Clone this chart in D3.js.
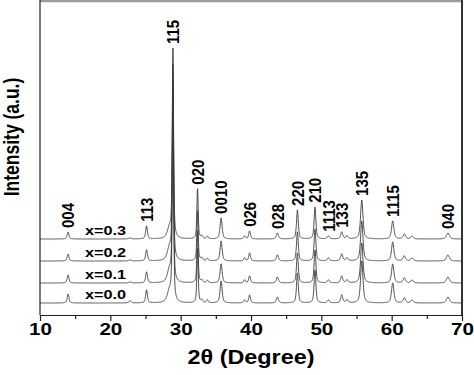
<!DOCTYPE html>
<html>
<head>
<meta charset="utf-8">
<script src="https://cdn.jsdelivr.net/npm/d3@7"></script>
<style>
  body { margin: 0; background: #fff; }
  svg { display: block; font-family: "Liberation Sans", Arial, sans-serif; }
</style>
</head>
<body>
<div id="chart"></div>
<script>
// Peak list (2θ, degrees)
const peakPos   = [14.0, 22.8, 25.15, 28.4, 28.9, 32.4, 33.0, 33.8, 35.75, 39.1, 39.8, 43.75, 46.6, 49.1, 51.0, 52.9, 53.65, 55.75, 60.15, 61.8, 62.9, 68.0];
const peakFwhm  = [0.3, 0.4, 0.3, 0.7, 0.22, 0.22, 0.3, 0.3, 0.35, 0.3, 0.3, 0.35, 0.3, 0.3, 0.35, 0.35, 0.35, 0.4, 0.4, 0.4, 0.4, 0.5];

// Peak intensities (a.u.) for each composition
const seriesNames = ["x=0.0", "x=0.1", "x=0.2", "x=0.3"];
const seriesOffset = [12, 32, 54, 76];
const int00 = [9, 2, 13, 11, 203, 54, 3, 3, 22, 3, 8, 6, 30, 33, 3, 8, 3, 42, 20, 5, 3, 6];
const int01 = [8, 1, 11, 12, 198, 52, 3, 2.5, 19, 3, 7, 6, 30, 33, 3, 7, 3, 40, 19, 5, 3, 6];
const int02 = [7, 1, 11, 12, 193, 50, 3, 2.5, 20, 3, 8, 6, 29, 32, 3, 7, 3, 40, 19, 5, 3, 6];
const int03 = [7, 1, 13, 10, 188, 50, 3, 2.5, 21, 3, 8, 6, 29, 32, 3, 7, 3, 39, 18, 5, 3, 6];
const seriesInt = [int00, int01, int02, int03];

// Miller index labels
const hklText = ["004", "113", "115", "020", "0010", "026", "028", "220", "210", "1113", "133", "135", "1115", "040"];
const hklPos  = [14.0, 25.15, 28.9, 32.4, 35.75, 39.8, 43.75, 46.6, 49.1, 51.0, 52.9, 55.75, 60.15, 68.0];

const xTicks = [10, 20, 30, 40, 50, 60, 70];
const xMinor = [15, 25, 35, 45, 55, 65];

const width = 474, height = 375;
const margin = {left: 40, right: 462, top: 1, bottom: 315};
const sx = 1.25; // horizontal stretch of the original lettering

const x = d3.scaleLinear().domain([10, 70]).range([margin.left, margin.right]);
const y = d3.scaleLinear().domain([0, 314]).range([margin.bottom, margin.top]);

// pseudo-Voigt profile sum for one pattern
function profile(ints, t) {
    let s = 0;
    for (let i = 0; i < peakPos.length; i++) {
        const u = (t - peakPos[i]) / (peakFwhm[i] / 2);
        s += ints[i] * (0.6 / (1 + u * u) + 0.4 * Math.exp(-Math.LN2 * u * u));
    }
    return s;
}

const grid = d3.range(10, 70.001, 0.02);

const svg = d3.select("#chart").append("svg")
    .attr("width", width).attr("height", height);

const line = d3.line().x(d => x(d[0])).y(d => y(d[1]));

seriesInt.forEach((ints, k) => {
    const pts = grid.map(t => [t, seriesOffset[k] + profile(ints, t)]);
    svg.append("path")
        .attr("d", line(pts))
        .attr("fill", "none")
        .attr("stroke", "#3a3a3a")
        .attr("stroke-width", 0.9);

    svg.append("text")
        .attr("transform", `translate(85,${y(seriesOffset[k]) - 4}) scale(${sx},1)`)
        .style("font-size", "13px")
        .style("font-weight", "bold")
        .text(seriesNames[k]);
});

// hkl labels above the top pattern
hklText.forEach((lab, i) => {
    const peakTop = y(seriesOffset[3] + profile(int03, hklPos[i]));
    svg.append("text")
        .attr("transform", `translate(${x(hklPos[i])},${peakTop - 4}) scale(1.15,1) rotate(-90)`)
        .attr("dy", "0.36em")
        .style("font-size", "15px")
        .style("font-weight", "bold")
        .text(lab);
});

// frame
svg.append("line").attr("x1", margin.left).attr("x2", margin.right).attr("y1", 1).attr("y2", 1)
    .attr("stroke", "#9c9c9c").attr("stroke-width", 2.5);
svg.append("line").attr("x1", margin.right).attr("x2", margin.right).attr("y1", 0).attr("y2", margin.bottom)
    .attr("stroke", "#333").attr("stroke-width", 2);
svg.append("line").attr("x1", margin.left).attr("x2", margin.left).attr("y1", 0).attr("y2", margin.bottom)
    .attr("stroke", "#222").attr("stroke-width", 1.2);

// x axis
const ax = svg.append("g").attr("transform", `translate(0,${margin.bottom})`)
    .call(d3.axisBottom(x).tickValues(xTicks).tickSize(6).tickSizeOuter(0).tickPadding(2));
ax.select(".domain").attr("stroke", "#222").attr("stroke-width", 1.2);
ax.selectAll(".tick line").attr("stroke", "#222").attr("stroke-width", 1.2);
ax.selectAll(".tick text")
    .attr("transform", `scale(${sx},1)`)
    .style("font-size", "16.5px")
    .style("font-weight", "bold")
    .attr("fill", "#000");

const axm = svg.append("g").attr("transform", `translate(0,${margin.bottom})`)
    .call(d3.axisBottom(x).tickValues(xMinor).tickSize(4).tickFormat(""));
axm.select(".domain").remove();
axm.selectAll(".tick line").attr("stroke", "#222").attr("stroke-width", 1.2);

// axis titles
svg.append("text")
    .attr("transform", `translate(${(margin.left + margin.right) / 2},364) scale(1.2,1)`)
    .attr("text-anchor", "middle")
    .style("font-size", "19.5px")
    .style("font-weight", "bold")
    .text("2θ (Degree)");

svg.append("text")
    .attr("transform", `translate(19,137) scale(${sx},1) rotate(-90)`)
    .attr("text-anchor", "middle")
    .style("font-size", "17.5px")
    .style("font-weight", "bold")
    .text("Intensity (a.u.)");
</script>
</body>
</html>
